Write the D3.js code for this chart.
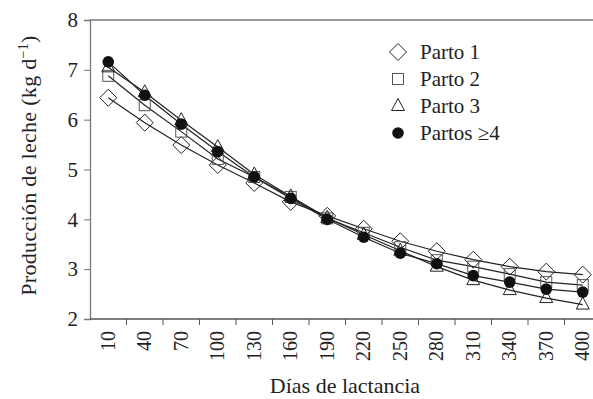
<!DOCTYPE html>
<html>
<head>
<meta charset="utf-8">
<script src="https://cdn.jsdelivr.net/npm/d3@7"></script>
<style>
  body { margin: 0; background: #fff; }
  svg text { font-family: "Liberation Serif", "Times New Roman", Times, "DejaVu Serif", "Noto Serif", serif !important; }
</style>
</head>
<body>
<div id="chart"></div>
<script>
const days = [10, 40, 70, 100, 130, 160, 190, 220, 250, 280, 310, 340, 370, 400];
const parto1 = [6.44, 5.94, 5.49, 5.09, 4.73, 4.35, 4.07, 3.81, 3.56, 3.36, 3.19, 3.05, 2.95, 2.89];
const parto2 = [6.88, 6.29, 5.76, 5.21, 4.85, 4.45, 4.02, 3.73, 3.44, 3.18, 3.05, 2.90, 2.74, 2.68];
const parto3 = [7.05, 6.55, 5.99, 5.45, 4.90, 4.46, 4.03, 3.69, 3.37, 3.05, 2.78, 2.58, 2.42, 2.29];
const parto4 = [7.16, 6.49, 5.91, 5.36, 4.85, 4.42, 4.00, 3.64, 3.32, 3.11, 2.87, 2.74, 2.60, 2.54];
const yTicks = [2, 3, 4, 5, 6, 7, 8];
const seriesNames = ["Parto 1", "Parto 2", "Parto 3", "Partos \u22654"];
const seriesValues = [parto1, parto2, parto3, parto4];
const symbols = ["diamond", "square", "triangle", "circle"];

const width = 593, height = 399;
const margin = { top: 20, right: -8, bottom: 80, left: 90 };

const svg = d3.select("#chart").append("svg")
  .attr("width", width)
  .attr("height", height);

const x = d3.scaleBand()
  .domain(days)
  .range([margin.left, width - margin.right]);

const y = d3.scaleLinear()
  .domain([2, 8])
  .range([height - margin.bottom, margin.top]);

const cx = d => x(d) + x.bandwidth() / 2;

// frame top line
svg.append("line")
  .attr("x1", margin.left).attr("x2", width)
  .attr("y1", y(8)).attr("y2", y(8))
  .attr("stroke", "#333").attr("stroke-width", 1.2);

// y axis
const yAxis = svg.append("g")
  .attr("transform", `translate(${margin.left},0)`)
  .call(d3.axisLeft(y).tickValues(yTicks).tickFormat(d3.format("d")).tickSize(6).tickPadding(6));
yAxis.select(".domain").attr("stroke", "#777").attr("stroke-width", 1.3);
yAxis.selectAll(".tick line").attr("stroke", "#777");
yAxis.selectAll("text").attr("font-size", 21).attr("fill", "#222");

// x axis: ticks between categories
const xg = svg.append("g")
  .attr("transform", `translate(0,${y(2)})`);
xg.append("line")
  .attr("x1", margin.left).attr("x2", width)
  .attr("stroke", "#555").attr("stroke-width", 1.3);
xg.selectAll(".tk")
  .data(days.slice(1))
  .join("line")
  .attr("x1", d => x(d)).attr("x2", d => x(d))
  .attr("y1", 0).attr("y2", 6)
  .attr("stroke", "#555");
xg.selectAll(".lbl")
  .data(days)
  .join("text")
  .attr("transform", d => `translate(${cx(d) + 6.5},12) rotate(-90)`)
  .attr("text-anchor", "end")
  .attr("font-size", 20)
  .attr("fill", "#222")
  .text(d => d);

// lines
const line = d3.line()
  .x((d, i) => cx(days[i]))
  .y(d => y(d));

svg.selectAll(".series")
  .data(seriesValues)
  .join("path")
  .attr("fill", "none")
  .attr("stroke", "#222")
  .attr("stroke-width", 1.2)
  .attr("d", line);

// markers
function marker(sel, kind) {
  if (kind === "diamond") {
    sel.append("path").attr("d", "M0,-8.5L8.5,0L0,8.5L-8.5,0Z")
      .attr("fill", "none").attr("stroke", "#222").attr("stroke-width", 1);
  } else if (kind === "square") {
    sel.append("rect").attr("x", -5.5).attr("y", -5.5).attr("width", 11).attr("height", 11)
      .attr("fill", "none").attr("stroke", "#555").attr("stroke-width", 1);
  } else if (kind === "triangle") {
    sel.append("path").attr("d", "M0,-7.5L6.5,4.5L-6.5,4.5Z")
      .attr("fill", "none").attr("stroke", "#222").attr("stroke-width", 1);
  } else {
    sel.append("circle").attr("r", 5.8).attr("fill", "#111");
  }
}

seriesValues.forEach((vals, s) => {
  svg.append("g").selectAll("g")
    .data(vals)
    .join("g")
    .attr("transform", (d, i) => `translate(${cx(days[i])},${y(d)})`)
    .each(function() { marker(d3.select(this), symbols[s]); });
});

// legend
const legend = svg.append("g").attr("transform", "translate(398,52)");
seriesNames.forEach((name, i) => {
  const g = legend.append("g").attr("transform", `translate(0,${i * 27})`);
  marker(g, symbols[i]);
  g.append("text")
    .attr("x", 22).attr("y", 7)
    .attr("font-size", 21).attr("fill", "#222")
    .text(name);
});

// axis titles
svg.append("text")
  .attr("x", 345).attr("y", 393)
  .attr("text-anchor", "middle")
  .attr("font-size", 22).attr("fill", "#222")
  .text("Días de lactancia");

const yt = svg.append("text")
  .attr("transform", `translate(36,${(y(2) + y(8)) / 2 - 4}) rotate(-90)`)
  .attr("text-anchor", "middle")
  .attr("font-size", 22).attr("letter-spacing", 0.3).attr("fill", "#222");
yt.append("tspan").text("Producción de leche (kg d");
yt.append("tspan").attr("dy", -8).attr("font-size", 14).text("\u22121");
yt.append("tspan").attr("dy", 8).text(")");
</script>
</body>
</html>
